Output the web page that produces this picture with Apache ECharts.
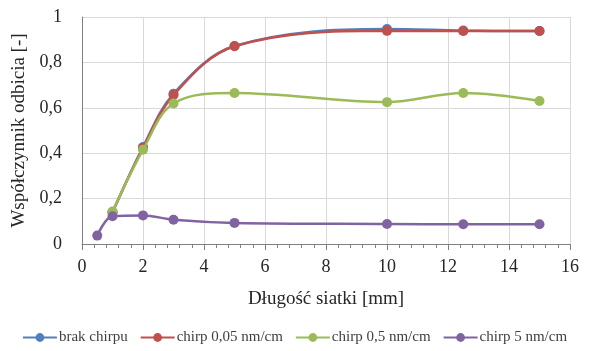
<!DOCTYPE html>
<html>
<head>
<meta charset="utf-8">
<script src="https://cdn.jsdelivr.net/npm/echarts@6/dist/echarts.min.js"></script>
<style>html,body{margin:0;padding:0;background:#fff}#c{width:589px;height:351px}</style>
</head>
<body>
<div id="c"></div>
<script>
var xBrak = [1, 2, 3, 5, 10, 12.5, 15];
var yBrak = [0.14, 0.427, 0.662, 0.872, 0.947, 0.94, 0.938];
var xChirp005 = [1, 2, 3, 5, 10, 12.5, 15];
var yChirp005 = [0.14, 0.424, 0.656, 0.871, 0.939, 0.938, 0.938];
var xChirp05 = [1, 2, 3, 5, 10, 12.5, 15];
var yChirp05 = [0.143, 0.415, 0.619, 0.665, 0.625, 0.665, 0.63];
var xChirp5 = [0.5, 1, 2, 3, 5, 10, 12.5, 15];
var yChirp5 = [0.037, 0.122, 0.126, 0.107, 0.093, 0.088, 0.087, 0.087];
var seriesNames = ['brak chirpu', 'chirp 0,05 nm/cm', 'chirp 0,5 nm/cm', 'chirp 5 nm/cm'];
var colors = ['#4F81BD', '#C0504D', '#9BBB59', '#8064A2'];
var xTitle = 'Długość siatki [mm]';
var yTitle = 'Współczynnik odbicia [-]';

function pairs(xs, ys) { return xs.map(function (x, i) { return [x, ys[i]]; }); }
var allData = [pairs(xBrak, yBrak), pairs(xChirp005, yChirp005), pairs(xChirp05, yChirp05), pairs(xChirp5, yChirp5)];

var font = 'Liberation Serif';
var chart = echarts.init(document.getElementById('c'), null, {renderer: 'canvas'});
chart.setOption({
  animation: false,
  color: colors,
  textStyle: {fontFamily: font},
  grid: {left: 82, right: 19, top: 17, bottom: 107, containLabel: false},
  legend: {
    top: 330, left: 'center', padding: 0,
    itemWidth: 34, itemHeight: 11, itemGap: 12,
    textStyle: {fontFamily: font, fontSize: 15, color: '#404040', padding: [0, 0, 0, -3]},
    data: seriesNames
  },
  xAxis: {
    type: 'value', min: 0, max: 16, interval: 2,
    name: xTitle, nameLocation: 'middle', nameGap: 46,
    nameTextStyle: {fontFamily: font, fontSize: 19, color: '#262626'},
    axisLine: {show: true, lineStyle: {color: '#808080', width: 1}},
    axisTick: {show: true, length: 6, lineStyle: {color: '#808080'}},
    minorTick: {show: true, splitNumber: 5, length: 4, lineStyle: {color: '#808080'}},
    axisLabel: {fontFamily: font, fontSize: 18, color: '#262626', margin: 14},
    splitLine: {show: true, lineStyle: {color: '#d9d9d9', width: 1}}
  },
  yAxis: {
    type: 'value', min: 0, max: 1, interval: 0.2,
    name: yTitle, nameLocation: 'middle', nameGap: 50, nameRotate: 90,
    nameTextStyle: {fontFamily: font, fontSize: 19, color: '#262626'},
    axisLine: {show: true, lineStyle: {color: '#808080', width: 1}},
    axisTick: {show: false},
    axisLabel: {fontFamily: font, fontSize: 18, color: '#262626', margin: 20,
      formatter: function (v) { return String(Math.round(v * 10) / 10).replace('.', ','); }},
    splitLine: {show: true, lineStyle: {color: '#d9d9d9', width: 1}}
  },
  series: allData.map(function (d, i) {
    return {
      name: seriesNames[i], type: 'line', data: d, smooth: 0.35,
      symbol: 'circle', symbolSize: 10, z: 2 + i,
      lineStyle: {width: 2.5, color: colors[i]},
      itemStyle: {color: colors[i]}
    };
  })
});
</script>
</body>
</html>
